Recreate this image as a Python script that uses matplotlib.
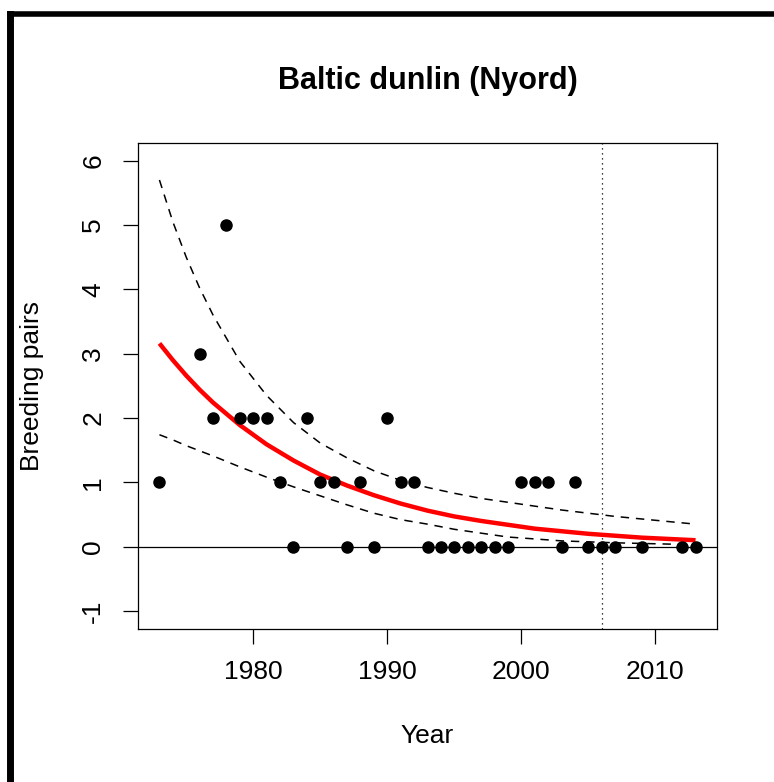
import matplotlib
matplotlib.use('Agg')
import matplotlib.pyplot as plt
from matplotlib.lines import Line2D

plt.rcParams['font.family'] = ['Liberation Sans', 'DejaVu Sans']
plt.rcParams['axes.unicode_minus'] = False

# observed breeding pairs
years = [1973, 1976, 1977, 1978, 1979, 1980, 1981, 1982, 1983, 1984, 1985,
         1986, 1987, 1988, 1989, 1990, 1991, 1992, 1993, 1994, 1995, 1996,
         1997, 1998, 1999, 2000, 2001, 2002, 2003, 2004, 2005, 2006, 2007,
         2009, 2012, 2013]
pairs = [1, 3, 2, 5, 2, 2, 2, 1, 0, 2, 1,
         1, 0, 1, 0, 2, 1, 1, 0, 0, 0, 0,
         0, 0, 0, 1, 1, 1, 0, 1, 0, 0, 0,
         0, 0, 0]

# fitted trend and confidence band
fit_years = [1973, 1974, 1975, 1976, 1977, 1979, 1981, 1983, 1985, 1987, 1989,
             1991, 1993, 1995, 1997, 1999, 2001, 2003, 2005, 2007, 2009, 2011, 2013]
fit = [3.16, 2.90, 2.66, 2.44, 2.24, 1.89, 1.59, 1.34, 1.12, 0.95, 0.80,
       0.67, 0.56, 0.47, 0.40, 0.34, 0.28, 0.24, 0.20, 0.17, 0.14, 0.12, 0.10]
upper = [5.70, 5.05, 4.50, 4.02, 3.60, 2.88, 2.35, 1.93, 1.61, 1.38, 1.18,
         1.03, 0.92, 0.83, 0.75, 0.69, 0.63, 0.57, 0.52, 0.47, 0.43, 0.39, 0.35]
lower = [1.74, 1.66, 1.57, 1.49, 1.41, 1.24, 1.08, 0.93, 0.79, 0.65, 0.52,
         0.42, 0.35, 0.27, 0.21, 0.15, 0.12, 0.09, 0.075, 0.06, 0.05, 0.04, 0.03]

cutoff_year = 2006
x_ticks = [1980, 1990, 2000, 2010]
y_ticks = [-1, 0, 1, 2, 3, 4, 5, 6]

W, H = 774, 782
fig = plt.figure(figsize=(W / 100, H / 100), dpi=100)
ax = fig.add_axes([138 / W, 1 - 629 / H, (717 - 138) / W, (629 - 142.7) / H])

ax.axhline(0, color='black', lw=0.9, zorder=1)
ax.axvline(cutoff_year, color='black', lw=0.9, linestyle=(0, (1, 3)), zorder=1)
ax.plot(fit_years, upper, color='black', lw=1.1, linestyle=(0, (5.5, 4.5)), zorder=2)
ax.plot(fit_years, lower, color='black', lw=1.1, linestyle=(0, (5.5, 4.5)), zorder=2)
ax.plot(fit_years, fit, color='red', lw=3.2, zorder=3, solid_capstyle='butt')
ax.plot(years, pairs, 'o', color='black', markersize=8, zorder=4)

# R style axis ranges (4% padding)
xr = max(years) - min(years)
ax.set_xlim(min(years) - 0.04 * xr, max(years) + 0.04 * xr)
ax.set_ylim(-1 - 0.04 * 7, 6 + 0.04 * 7)

ax.set_xticks(x_ticks)
ax.set_yticks(y_ticks)
ax.tick_params(axis='both', direction='out', length=10.5, width=0.9,
               labelsize=19, color='black')
ax.tick_params(axis='x', pad=12)
ax.tick_params(axis='y', pad=13)
for lab in ax.get_yticklabels():
    lab.set_rotation(90)
    lab.set_va('center')
for sp in ax.spines.values():
    sp.set_linewidth(0.9)

ax.set_xlabel('Year', fontsize=19)
ax.xaxis.set_label_coords(0.5, -0.22)
ax.xaxis.label.set_va('center')
ax.set_ylabel('Breeding pairs', fontsize=19)
ax.yaxis.set_label_coords(-0.183, 0.5)
ax.yaxis.label.set_va('center')

fig.text(427.5 / W, 1 - 81 / H, 'Baltic dunlin (Nyord)', fontsize=22,
         fontweight='bold', ha='center', va='center')

# thick outer frame (left and top edges visible)
fig.add_artist(Line2D([10 / W, 10 / W], [0, 1 - 13.5 / H], color='black',
                      lw=5, transform=fig.transFigure, solid_capstyle='projecting'))
fig.add_artist(Line2D([10 / W, 1], [1 - 13.5 / H, 1 - 13.5 / H], color='black',
                      lw=4, transform=fig.transFigure, solid_capstyle='projecting'))

fig.savefig('out.png', dpi=100)
